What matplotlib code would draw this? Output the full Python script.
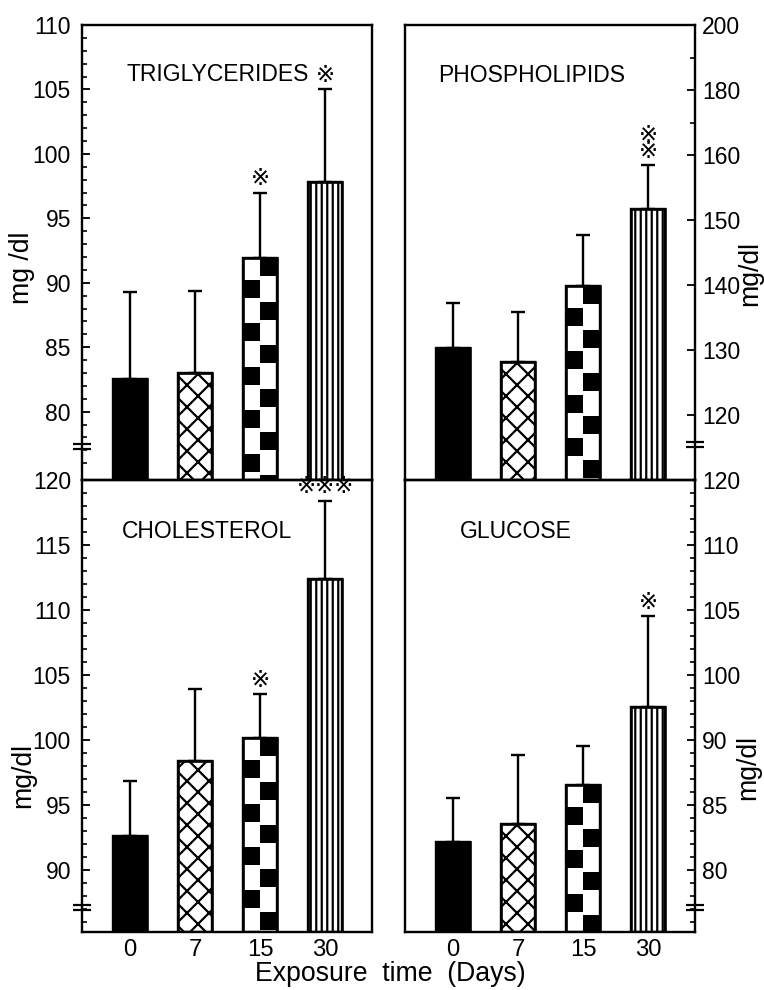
import numpy as np
import matplotlib
matplotlib.use('Agg')
import matplotlib.pyplot as plt
from matplotlib.patches import Rectangle
from matplotlib.transforms import ScaledTranslation, blended_transform_factory

# ---------------- data ----------------
days = ['0', '7', '15', '30']

tg_mean = [82.5, 83.0, 91.9, 97.8]
tg_sd = [6.8, 6.4, 5.1, 7.2]
tg_sig = ['', '', '※', '※']

pl_mean = [130.3, 128.1, 139.8, 151.7]
pl_sd = [7.0, 7.7, 7.9, 6.7]
pl_sig = ['', '', '', '※\n※']

ch_mean = [92.6, 98.4, 100.1, 112.4]
ch_sd = [4.2, 5.5, 3.4, 6.0]
ch_sig = ['', '', '※', '※※※']

gl_mean = [82.1, 83.5, 86.5, 92.5]
gl_sd = [3.4, 5.3, 3.0, 7.0]
gl_sig = ['', '', '', '※']

titles = ['TRIGLYCERIDES', 'PHOSPHOLIPIDS', 'CHOLESTEROL', 'GLUCOSE']

tg_ticks = [80, 85, 90, 95, 100, 105, 110]
tg_ticklabels = ['80', '85', '90', '95', '100', '105', '110']
pl_ticks = [120, 130, 140, 150, 160, 170, 180]
pl_ticklabels = ['120', '130', '140', '150', '160', '180', '200']
ch_ticks = [90, 95, 100, 105, 110, 115, 120]
ch_ticklabels = ['90', '95', '100', '105', '110', '115', '120']
gl_ticks = [80, 85, 90, 95, 100, 105, 110]
gl_ticklabels = ['80', '85', '90', '100', '105', '110', '120']

ylabels = ['mg /dl', 'mg/dl', 'mg/dl', 'mg/dl']
xlabel = 'Exposure  time  (Days)'

# ---------------- style ----------------
DPI = 132
W, H = 764, 990
FONT = ['Liberation Sans', 'DejaVu Sans']
SYM = ['DejaVu Sans', 'Noto Sans CJK JP']
plt.rcParams['font.family'] = FONT
plt.rcParams['hatch.linewidth'] = 1.2
plt.rcParams['hatch.color'] = 'black'

fig = plt.figure(figsize=(W / DPI, H / DPI), dpi=DPI)
fig.patch.set_facecolor('white')


def frac(x0, y0, x1, y1):
    return [x0 / W, 1 - y1 / H, (x1 - x0) / W, (y1 - y0) / H]


panels = [
    dict(rect=frac(82, 25, 372, 480), mean=tg_mean, sd=tg_sd, sig=tg_sig,
         ylim=(74.7, 110), ticks=tg_ticks, labels=tg_ticklabels,
         minor=np.arange(76, 111, 1), side='left', brk=77.3,
         title=titles[0], tpos=(0.155, 0.892), bottom=False,
         ylab=(22, 268), ytext=ylabels[0]),
    dict(rect=frac(405, 25, 695, 480), mean=pl_mean, sd=pl_sd, sig=pl_sig,
         ylim=(110, 180), ticks=pl_ticks, labels=pl_ticklabels,
         minor=[165, 175], side='right', brk=115.5,
         title=titles[1], tpos=(0.114, 0.890), bottom=False,
         ylab=(750, 273), ytext=ylabels[1]),
    dict(rect=frac(82, 480, 372, 932), mean=ch_mean, sd=ch_sd, sig=ch_sig,
         ylim=(85.2, 120), ticks=ch_ticks, labels=ch_ticklabels,
         minor=np.arange(86, 121, 1), side='left', brk=87.1,
         title=titles[2], tpos=(0.138, 0.885), bottom=True,
         ylab=(23, 775), ytext=ylabels[2]),
    dict(rect=frac(405, 480, 695, 932), mean=gl_mean, sd=gl_sd, sig=gl_sig,
         ylim=(75.2, 110), ticks=gl_ticks, labels=gl_ticklabels,
         minor=np.arange(76, 111, 1), side='right', brk=77.1,
         title=titles[3], tpos=(0.19, 0.885), bottom=True,
         ylab=(748, 768), ytext=ylabels[3]),
]

x = np.arange(len(days))
BW = 0.52
faces = ['black', 'white', 'white', 'white']
hatches = [None, 'xx', None, '||||']


def checker(ax, xc, width, top, bottom, cell_px=21.7, block_px=18.0):
    p0 = ax.transData.transform((0, 0))
    p1 = ax.transData.transform((0, 1))
    ppu = p1[1] - p0[1]
    cell = cell_px / ppu
    block = block_px / ppu
    y = top
    i = 0
    while y > bottom:
        x0 = xc if i % 2 == 0 else xc - width / 2
        y0 = max(y - block, bottom)
        ax.add_patch(Rectangle((x0, y0), width / 2, y - y0,
                               facecolor='black', edgecolor='none', zorder=2.5))
        y -= cell
        i += 1


for p in panels:
    ax = fig.add_axes(p['rect'])
    ax.set_facecolor('none')
    ax.set_xlim(-0.74, 3.72)
    ylo, yhi = p['ylim']
    ax.set_ylim(ylo, yhi)
    mean = np.array(p['mean'])
    sd = np.array(p['sd'])

    # bars
    for i in range(4):
        ax.bar(x[i], mean[i] - ylo, bottom=ylo, width=BW, color=faces[i],
               edgecolor='black', linewidth=1.3, hatch=hatches[i], zorder=2)
    checker(ax, x[2], BW, mean[2], ylo)
    ax.bar(x, mean - ylo, bottom=ylo, width=BW, fill=False,
           edgecolor='black', linewidth=1.4, zorder=3)

    # error bars (upper only)
    ax.errorbar(x, mean, yerr=[np.zeros(4), sd], fmt='none', ecolor='black',
                elinewidth=1.3, capsize=4.0, capthick=1.3, zorder=1.5)

    # significance marks
    for i in range(4):
        if p['sig'][i]:
            ax.annotate(p['sig'][i], (x[i], mean[i] + sd[i]), xytext=(0, 1.5),
                        textcoords='offset points', ha='center', va='bottom',
                        fontsize=12.5, family=SYM, linespacing=0.6,
                        annotation_clip=False)

    # title
    ax.text(p['tpos'][0], p['tpos'][1], p['title'], transform=ax.transAxes,
            ha='left', va='center', fontsize=12.5)

    # y axis
    ax.set_yticks(p['ticks'])
    ax.set_yticklabels(p['labels'])
    ax.set_yticks(p['minor'], minor=True)
    if p['side'] == 'right':
        ax.yaxis.tick_right()
        ax.tick_params(axis='y', which='both', left=False, right=True, pad=4)
    else:
        ax.tick_params(axis='y', which='both', left=True, right=False, pad=6)
    ax.tick_params(axis='y', which='major', direction='in', length=4.5,
                   width=1.0, labelsize=12.5)
    ax.tick_params(axis='y', which='minor', direction='in', length=2.8,
                   width=0.9)

    # x axis
    if p['bottom']:
        ax.set_xticks(x)
        ax.set_xticklabels(days)
        ax.tick_params(axis='x', length=0, labelsize=13, pad=4)
    else:
        ax.set_xticks([])

    for s in ax.spines.values():
        s.set_linewidth(1.3)

    # axis break marks
    xs = 0.0 if p['side'] == 'left' else 1.0
    base = blended_transform_factory(ax.transAxes, ax.transData)
    for dy in (-2.6, 2.6):
        tr = base + ScaledTranslation(0, dy / DPI, fig.dpi_scale_trans)
        ax.plot([xs - 0.032, xs + 0.032], [p['brk'], p['brk']], color='black',
                lw=1.2, transform=tr, clip_on=False, zorder=5,
                solid_capstyle='butt')

    # y label
    fig.text(p['ylab'][0] / W, 1 - p['ylab'][1] / H, p['ytext'], rotation=90,
             ha='center', va='center', fontsize=14.5)

fig.text(390 / W, 1 - 974 / H, xlabel, ha='center', va='center', fontsize=14.5)

fig.savefig('out.png', dpi=DPI, facecolor='white')
